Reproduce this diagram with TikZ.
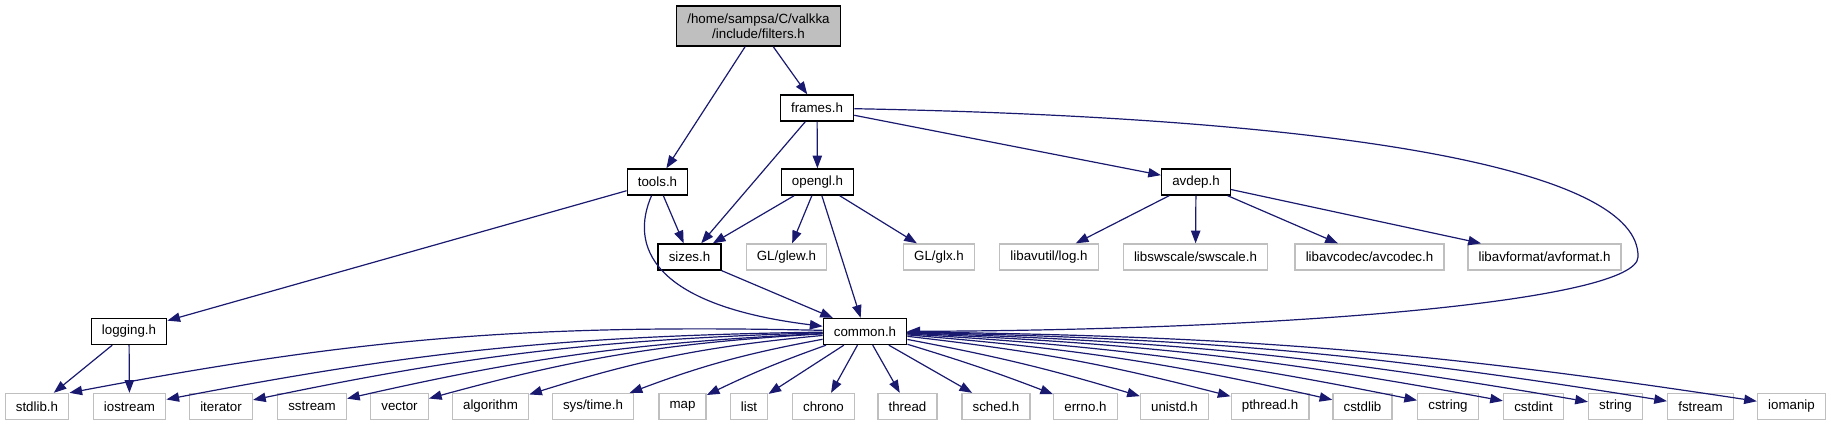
\documentclass[tikz,border=0pt]{standalone}
\usepackage{fontspec}
\setmainfont{Liberation Sans}
\usetikzlibrary{arrows.meta}
\definecolor{navy}{HTML}{191970}
\definecolor{boxgray}{HTML}{BFBFBF}

\begin{document}
\begin{tikzpicture}[
    x=0.75pt, y=0.75pt,
    every node/.style={font=\fontsize{10}{11.5}\selectfont},
    hdr/.style={draw=black,line width=1pt,minimum height=19.5pt,
                inner xsep=8pt,inner ysep=0pt,fill=white},
    sys/.style={hdr,draw=boxgray},
    root/.style={hdr,fill=boxgray,minimum height=30pt,align=center},
    inc/.style={-{Triangle[length=9.5pt,width=7pt]},line width=0.9pt,navy}
]
\useasboundingbox (0,0) rectangle (1831,-425);

% Root file
\node[root] (filters) at (758.5,-26) {/home/sampsa/C/valkka\\/include/filters.h};

% Project headers
\node[hdr] (frames)  at (817,-108)   {frames.h};
\node[hdr] (tools)   at (657.5,-182) {tools.h};
\node[hdr] (opengl)  at (817.5,-182) {opengl.h};
\node[hdr] (avdep)   at (1196,-182)  {avdep.h};
\node[hdr] (sizes)   at (689.5,-257) {sizes.h};
\node[hdr] (logging) at (129,-331.5) {logging.h};
\node[hdr] (common)  at (865,-331.5) {common.h};

% External headers, middle row
\node[sys] (glew)     at (786.5,-257)  {GL/glew.h};
\node[sys] (glx)      at (939,-257)    {GL/glx.h};
\node[sys] (avutil)   at (1049,-257)   {libavutil/log.h};
\node[sys] (swscale)  at (1195.5,-257) {libswscale/swscale.h};
\node[sys] (avcodec)  at (1369.5,-257) {libavcodec/avcodec.h};
\node[sys] (avformat) at (1544.5,-257) {libavformat/avformat.h};

% External headers, bottom row
\node[sys] (stdlib)   at (37,-406.5)     {stdlib.h};
\node[sys] (iostream) at (129.5,-406.5)  {iostream};
\node[sys] (iterator) at (221,-406.5)    {iterator};
\node[sys] (sstream)  at (312,-406.5)    {sstream};
\node[sys] (vector)   at (399.5,-406.5)  {vector};
\node[sys] (algo)     at (490.5,-406.5)  {algorithm};
\node[sys] (systime)  at (593,-406.5)    {sys/time.h};
\node[sys] (map)      at (682.5,-406.5)  {map};
\node[sys] (list)     at (749,-406.5)    {list};
\node[sys] (chrono)   at (823.5,-406.5)  {chrono};
\node[sys] (thread)   at (907.5,-406.5)  {thread};
\node[sys] (sched)    at (996,-406.5)    {sched.h};
\node[sys] (errno)    at (1085.5,-406.5) {errno.h};
\node[sys] (unistd)   at (1174.5,-406.5) {unistd.h};
\node[sys] (pthread)  at (1270,-406.5)   {pthread.h};
\node[sys] (cstdlib)  at (1362.5,-406.5) {cstdlib};
\node[sys] (cstring)  at (1448,-406.5)   {cstring};
\node[sys] (cstdint)  at (1533.5,-406.5) {cstdint};
\node[sys] (string)   at (1615.5,-406.5) {string};
\node[sys] (fstream)  at (1700.5,-406.5) {fstream};
\node[sys] (iomanip)  at (1791.5,-406.5) {iomanip};

% Includes of filters.h
\draw[inc] (filters) -- (tools);
\draw[inc] (filters) -- (frames);

% Includes of frames.h
\draw[inc] (frames) -- (opengl);
\draw[inc] (frames) -- (sizes);
\draw[inc] (frames) -- (avdep);
\coordinate (turn) at (1638,-257);
\draw[inc] (frames) .. controls (1350,-118) and (1640,-170) .. (turn)
    .. controls (1637,-300) and (1300,-330) .. (common);

% Includes of tools.h
\draw[inc] (tools) -- (sizes);
\draw[inc] (tools) -- (logging);
\draw[inc] (tools) .. controls (630,-245) and (650,-305) .. (common);

% Includes of opengl.h
\draw[inc] (opengl) -- (sizes);
\draw[inc] (opengl) -- (glew);
\draw[inc] (opengl) -- (glx);
\draw[inc] (opengl) -- (common);

\draw[inc] (sizes) -- (common);

% Includes of avdep.h
\draw[inc] (avdep) -- (avutil);
\draw[inc] (avdep) -- (swscale);
\draw[inc] (avdep) -- (avcodec);
\draw[inc] (avdep) -- (avformat);

% Includes of logging.h
\draw[inc] (logging) -- (stdlib);
\draw[inc] (logging) -- (iostream);

% Includes of common.h
\draw[inc] (common) to[bend right=6] (stdlib.north east);
\draw[inc] (common) to[bend right=5] (iostream);
\draw[inc] (common) to[bend right=5] (iterator);
\draw[inc] (common) to[bend right=5] (sstream);
\draw[inc] (common) to[bend right=6] (vector);
\draw[inc] (common) to[bend right=6] (algo);
\draw[inc] (common) to[bend right=5] (systime);
\draw[inc] (common) to[bend right=3] (map);
\draw[inc] (common) -- (list);
\draw[inc] (common) -- (chrono);
\draw[inc] (common) -- (thread);
\draw[inc] (common) -- (sched);
\draw[inc] (common) to[bend left=2] (errno);
\draw[inc] (common) to[bend left=3] (unistd);
\draw[inc] (common) to[bend left=4] (pthread);
\draw[inc] (common) to[bend left=4] (cstdlib);
\draw[inc] (common) to[bend left=4] (cstring);
\draw[inc] (common) to[bend left=4] (cstdint);
\draw[inc] (common) to[bend left=4] (string);
\draw[inc] (common) to[bend left=4] (fstream);
\draw[inc] (common) to[bend left=4] (iomanip);

\end{tikzpicture}
\end{document}
